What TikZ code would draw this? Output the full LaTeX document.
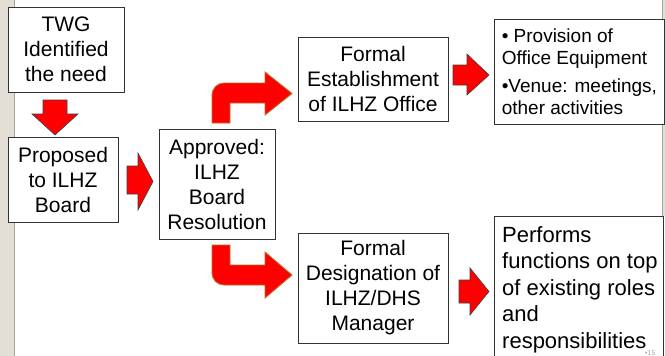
\documentclass[tikz,border=0pt]{standalone}
\usepackage{fontspec}
\setmainfont{Liberation Sans}
\definecolor{arrred}{HTML}{FF0000}
\definecolor{bentline}{HTML}{B8702A}
\definecolor{stripA}{HTML}{E3DFD7}
\definecolor{stripB}{HTML}{A8A49C}
\tikzset{
  box/.style={draw=black!80, line width=0.8pt, fill=white, align=center, inner sep=0pt,
    font=\fontsize{21}{25}\selectfont},
  blockarrow/.style={fill=arrred, draw=black!75, line width=0.6pt, line join=miter},
  bentarrow/.style={fill=arrred, draw=bentline, line width=0.9pt, line join=miter},
}
\begin{document}
\begin{tikzpicture}[x=1pt,y=-1pt]
\useasboundingbox (0,0) rectangle (665,356);
\clip (0,0) rectangle (665,356);
\fill[white] (0,0) rectangle (665,356);
% side strips
\fill[stripA] (0,0) rectangle (14,356);
\draw[stripB, line width=1.2pt] (14.6,0) -- (14.6,356);
\fill[stripA] (662,0) rectangle (665,216);
\draw[stripB, line width=0.8pt] (662.3,0) -- (662.3,216);

% boxes
\node[box, minimum width=116pt, minimum height=85pt] (twg) at (66,49.5) {TWG\\Identified\\the need};
\node[box, minimum width=110pt, minimum height=85pt] (prop) at (63,179.5) {Proposed\\to ILHZ\\Board};
\node[box, minimum width=116pt, minimum height=110pt] (appr) at (217,184) {Approved:\\ILHZ\\Board\\Resolution};
\node[box, minimum width=150pt, minimum height=84pt] (est) at (373,79) {Formal\\Establishment\\of ILHZ Office};
\node[box, minimum width=150pt, minimum height=110pt] (des) at (373,288) {Formal\\Designation of\\ILHZ/DHS\\Manager};
\node[box, minimum width=170pt, minimum height=105pt] (prov) at (579,71.5) {};
\node[anchor=west, align=left, inner sep=0pt, font=\fontsize{19}{22}\selectfont] (provtext) at ([xshift=8pt]prov.west)
  {• Provision of\\Office Equipment\\[6pt]•Venue: meetings,\\other activities};
\draw[draw=black!80, line width=0.8pt, fill=white] (494,380) -- (494,216) -- (663,216) -- (663,380);
\coordinate (perf) at (494,216);
\node[anchor=north west, align=left, inner sep=0pt, font=\fontsize{22}{26.5}\selectfont] (perftext) at (502,226)
  {Performs\\functions on top\\of existing roles\\and\\responsibilities};
\node[anchor=base west, inner sep=0pt, text=black!35, font=\fontsize{7}{8}\selectfont] (pnum) at (645,355) {•15};

% straight block arrows
\draw[blockarrow] (43,100) -- (67,100) -- (67,114) -- (78,114) -- (55,135) -- (32,114) -- (43,114) -- cycle;
\draw[blockarrow] (127,166) -- (138,166) -- (138,153) -- (153,181.5) -- (138,210) -- (138,194) -- (127,194) -- cycle;
\draw[blockarrow] (453,65) -- (467,65) -- (467,54) -- (489,75) -- (467,95) -- (467,85) -- (453,85) -- cycle;
\draw[blockarrow] (459,280) -- (470,280) -- (470,268) -- (489,291.5) -- (470,315) -- (470,303) -- (459,303) -- cycle;

% bent arrows
\draw[bentarrow] (212,123) -- (212,95) .. controls (212,88.4) and (217.4,83) .. (224,83)
  -- (265,83) -- (265,72) -- (292,93.5) -- (265,115) -- (265,103) -- (230,103) -- (230,123) -- cycle;
\draw[bentarrow] (212,245) -- (212,273) .. controls (212,279.6) and (217.4,285) .. (224,285)
  -- (265,285) -- (265,298) -- (292,275) -- (265,252) -- (265,265) -- (230,265) -- (230,245) -- cycle;
\end{tikzpicture}
\end{document}
